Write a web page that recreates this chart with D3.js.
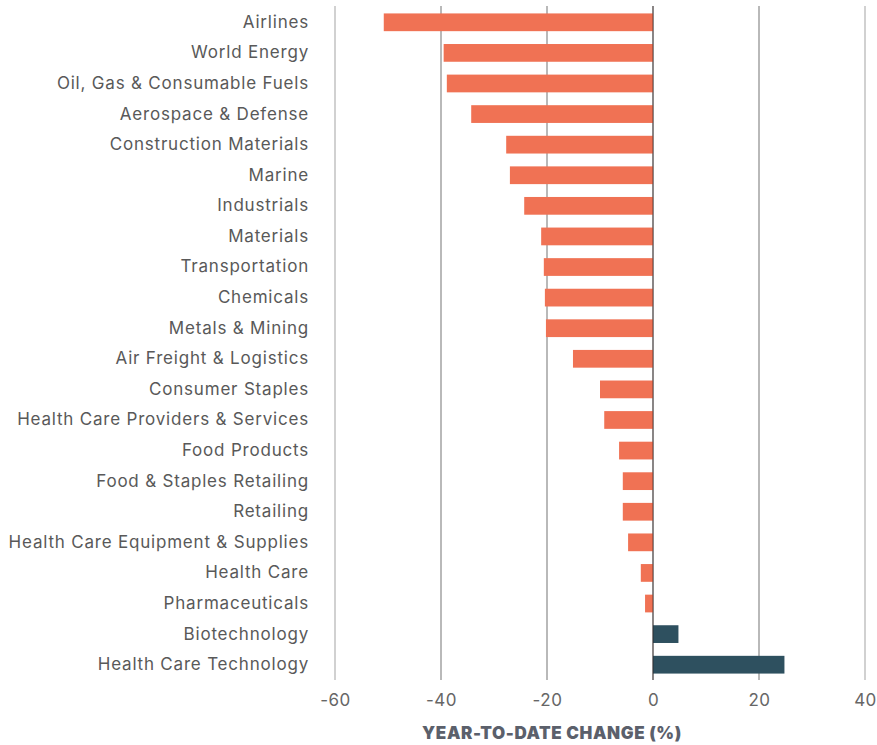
<!DOCTYPE html>
<html>
<head>
<meta charset="utf-8">
<script src="https://cdn.jsdelivr.net/npm/d3@7"></script>
<style>
  body { margin: 0; background: #fff; }
  svg { display: block; }
</style>
</head>
<body>
<script>
// categories, top to bottom
var categories = [
  "Airlines", "World Energy", "Oil, Gas & Consumable Fuels", "Aerospace & Defense",
  "Construction Materials", "Marine", "Industrials", "Materials", "Transportation",
  "Chemicals", "Metals & Mining", "Air Freight & Logistics", "Consumer Staples",
  "Health Care Providers & Services", "Food Products", "Food & Staples Retailing",
  "Retailing", "Health Care Equipment & Supplies", "Health Care", "Pharmaceuticals",
  "Biotechnology", "Health Care Technology"
];
// year-to-date change, %
var values = [
  -50.8, -39.5, -38.9, -34.3, -27.7, -27.0, -24.3, -21.1, -20.6,
  -20.4, -20.2, -15.1, -10.0, -9.2, -6.4, -5.7, -5.7, -4.7, -2.3, -1.5,
  4.8, 24.8
];
var xTicks = [-60, -40, -20, 0, 20, 40];
var xTitle = "YEAR-TO-DATE CHANGE (%)";

var data = categories.map(function(c, i) { return { name: c, value: values[i] }; });

var width = 877, height = 745;
var font = "Inter, 'Open Sans', sans-serif";

var svg = d3.select("body").append("svg")
  .attr("width", width)
  .attr("height", height);

var x = d3.scaleLinear().domain([-60, 40]).range([335, 865]);
var y = d3.scaleBand().domain(categories).range([7, 680]).paddingInner(0.42).paddingOuter(0.21);

// gridlines
svg.append("g")
  .selectAll("line")
  .data(xTicks)
  .enter().append("line")
  .attr("x1", function(d) { return x(d); })
  .attr("x2", function(d) { return x(d); })
  .attr("y1", 6)
  .attr("y2", 680)
  .attr("stroke", function(d) { return (d == -60 || d == 40) ? "#b3b3b3" : "#8a8a8a"; })
  .attr("stroke-width", 1.2);

// bars
svg.append("g")
  .selectAll("rect")
  .data(data)
  .enter().append("rect")
  .attr("x", function(d) { return x(Math.min(0, d.value)); })
  .attr("y", function(d) { return y(d.name); })
  .attr("width", function(d) { return Math.abs(x(d.value) - x(0)); })
  .attr("height", y.bandwidth())
  .attr("fill", function(d) { return d.value < 0 ? "#f07254" : "#2e505f"; });

// zero line
svg.append("line")
  .attr("x1", x(0)).attr("x2", x(0))
  .attr("y1", 6).attr("y2", 680)
  .attr("stroke", "rgba(40,30,30,0.55)")
  .attr("stroke-width", 1.2);

// category labels
var yAxis = svg.append("g")
  .attr("transform", "translate(309,0)")
  .call(d3.axisLeft(y).tickSize(0).tickPadding(0));
yAxis.select(".domain").remove();
yAxis.selectAll("text")
  .attr("font-family", font)
  .attr("font-size", "17px")
  .attr("letter-spacing", "0.8px")
  .attr("fill", "#595959");

// x tick labels
var xAxis = svg.append("g")
  .attr("transform", "translate(0,680)")
  .call(d3.axisBottom(x).tickValues(xTicks).tickSize(0).tickPadding(14).tickFormat(function(d) { return String(d); }));
xAxis.select(".domain").remove();
xAxis.selectAll("text")
  .attr("font-family", font)
  .attr("font-size", "17px")
  .attr("letter-spacing", "0.5px")
  .attr("fill", "#666");

// axis title
svg.append("text")
  .attr("x", 552)
  .attr("y", 739)
  .attr("text-anchor", "middle")
  .attr("font-family", font)
  .attr("font-size", "17px")
  .attr("font-weight", 900)
  .attr("letter-spacing", "0.6px")
  .attr("fill", "#5b606b")
  .text(xTitle);
</script>
</body>
</html>
